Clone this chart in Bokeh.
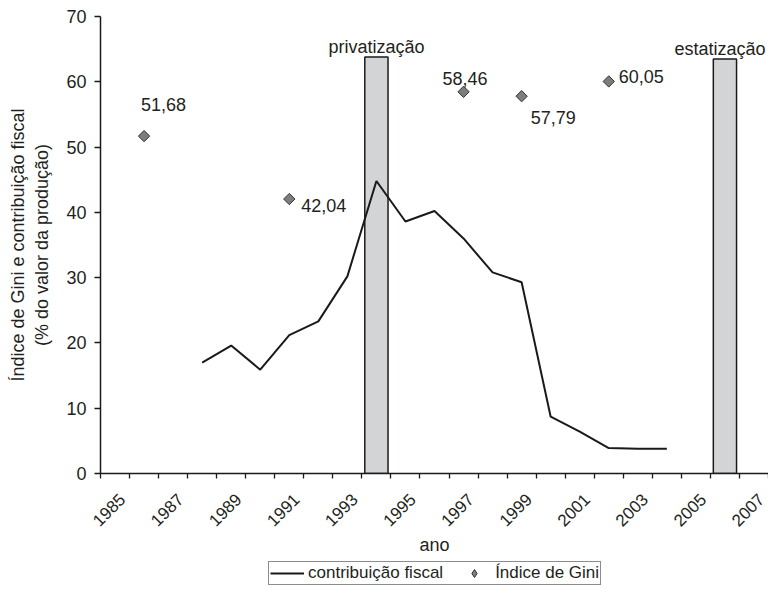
import math
from bokeh.plotting import figure
from bokeh.layouts import column
from bokeh.models import (FixedTicker, Legend, LegendItem, ColumnDataSource,
                          Range1d, NumeralTickFormatter)
from bokeh.core.properties import value
from bokeh.embed import file_html
from bokeh.resources import INLINE

# ---------------- data ----------------
anos = list(range(1985, 2008))                      # categories on the x axis
rotulos_anos = [str(a) for a in range(1985, 2008, 2)]

anos_contrib = [1988, 1989, 1990, 1991, 1992, 1993, 1994, 1995, 1996,
                1997, 1998, 1999, 2000, 2001, 2002, 2003, 2004]
contribuicao = [17.0, 19.6, 15.9, 21.2, 23.3, 30.2, 44.8, 38.6, 40.2,
                36.0, 30.8, 29.3, 8.7, 6.4, 3.9, 3.8, 3.8]

anos_gini = [1986, 1991, 1997, 1999, 2002]
gini = [51.68, 42.04, 58.46, 57.79, 60.05]
rotulos_gini = ["51,68", "42,04", "58,46", "57,79", "60,05"]

anos_eventos = [1994, 2006]
altura_eventos = [63.8, 63.5]
rotulos_eventos = ["privatização", "estatização"]

# ---------------- styles ----------------
FONT = "Liberation Sans"
TXT = "#231f20"
DARK = "#1a1a1a"
FS = "18px"
gini_dx = [-3, 12, -21, 9, 10]
gini_dy = [-32, 6, -13, 21, -5]
evento_dx = [0, -5]
label_shift = 0.25          # tick labels sit slightly right of category centre

p = figure(width=768, height=557, output_backend="svg", toolbar_location=None,
           x_range=Range1d(anos[0] - 0.5, anos[-1] + 0.5),
           y_range=Range1d(0, 70),
           min_border_left=100, min_border_right=0, min_border_top=16,
           min_border_bottom=78)
p.outline_line_color = None
p.xgrid.visible = False
p.ygrid.visible = False
p.background_fill_color = "white"
p.border_fill_color = "white"

# event bars
src_ev = ColumnDataSource(dict(x=anos_eventos, top=altura_eventos,
                               lab=rotulos_eventos, dx=evento_dx))
p.vbar(x="x", top="top", bottom=0, width=0.8, source=src_ev,
       fill_color="#d3d4d6", line_color=DARK, line_width=1.5)
p.text(x="x", y="top", text="lab", source=src_ev, x_offset="dx", y_offset=-10,
       text_align="center", text_baseline="alphabetic",
       text_font=value(FONT), text_font_size=FS, text_color=TXT)

# fiscal contribution line
src_c = ColumnDataSource(dict(x=anos_contrib, y=contribuicao))
p.line("x", "y", source=src_c, line_color=DARK, line_width=2)

# Gini points
src_g = ColumnDataSource(dict(x=anos_gini, y=gini, lab=rotulos_gini,
                              dx=gini_dx, dy=gini_dy))
p.scatter("x", "y", source=src_g, marker="square", angle=math.pi / 4,
          size=8, fill_color="#7d7d7d", line_color="#333333", line_width=1)
p.text(x="x", y="y", text="lab", source=src_g, x_offset="dx", y_offset="dy",
       text_align="left", text_baseline="alphabetic",
       text_font=value(FONT), text_font_size=FS, text_color=TXT)

# axes
boundaries = [a - 0.5 for a in anos] + [anos[-1] + 0.5]
xa = p.xaxis[0]
xa.ticker = FixedTicker(ticks=[int(t) + label_shift for t in rotulos_anos],
                        minor_ticks=boundaries)
xa.formatter = NumeralTickFormatter(format="0")
xa.major_tick_line_color = None
xa.major_tick_out = 0
xa.major_tick_in = 0
xa.minor_tick_out = 5
xa.minor_tick_in = 0
xa.minor_tick_line_color = DARK
xa.minor_tick_line_width = 1.3
xa.major_label_orientation = math.pi / 4
xa.major_label_standoff = 18
xa.axis_label = "ano"
xa.axis_label_standoff = 0

ya = p.yaxis[0]
ya.ticker = FixedTicker(ticks=[0, 10, 20, 30, 40, 50, 60, 70], minor_ticks=[])
ya.major_tick_out = 6
ya.major_tick_in = 0
ya.major_tick_line_color = DARK
ya.major_tick_line_width = 1.3
ya.major_label_standoff = 8
ya.axis_label = "Índice de Gini e contribuição fiscal\n(% do valor da produção)"
ya.axis_label_standoff = 11

for ax in (xa, ya):
    ax.axis_line_color = DARK
    ax.axis_line_width = 1.5
    ax.major_label_text_font = FONT
    ax.major_label_text_color = TXT
    ax.axis_label_text_font = FONT
    ax.axis_label_text_font_size = FS
    ax.axis_label_text_font_style = "normal"
    ax.axis_label_text_color = TXT
xa.major_label_text_font_size = "17px"
ya.major_label_text_font_size = FS

# legend strip below the chart (its glyphs use the real series, kept out of view)
leg = figure(width=768, height=30, output_backend="svg", toolbar_location=None,
             x_range=Range1d(0, 1), y_range=Range1d(0, 1),
             x_axis_location=None, y_axis_location=None,
             min_border_left=0, min_border_right=0, min_border_top=0,
             min_border_bottom=0)
leg.outline_line_color = None
leg.xgrid.visible = False
leg.ygrid.visible = False
leg.background_fill_color = "white"
leg.border_fill_color = "white"
leg_line = leg.line(anos_contrib, contribuicao, line_color=DARK, line_width=2)
leg_pts = leg.scatter(anos_gini, gini, marker="diamond", fill_color="#7d7d7d",
                      line_color="#333333", line_width=1)
legend = Legend(items=[LegendItem(label="contribuição fiscal", renderers=[leg_line]),
                       LegendItem(label="Índice de Gini", renderers=[leg_pts])],
                orientation="horizontal", location=(168, 2))
legend.border_line_color = DARK
legend.border_line_width = 1.5
legend.background_fill_color = "white"
legend.label_text_font = FONT
legend.label_text_font_size = "17px"
legend.label_text_color = TXT
legend.padding = 1
legend.spacing = 14
legend.margin = 0
legend.glyph_width = 34
legend.glyph_height = 20
legend.label_height = 20
legend.label_standoff = 4
leg.add_layout(legend)

layout = column(p, leg, spacing=0)
open("out.html", "w").write(file_html(layout, INLINE))
